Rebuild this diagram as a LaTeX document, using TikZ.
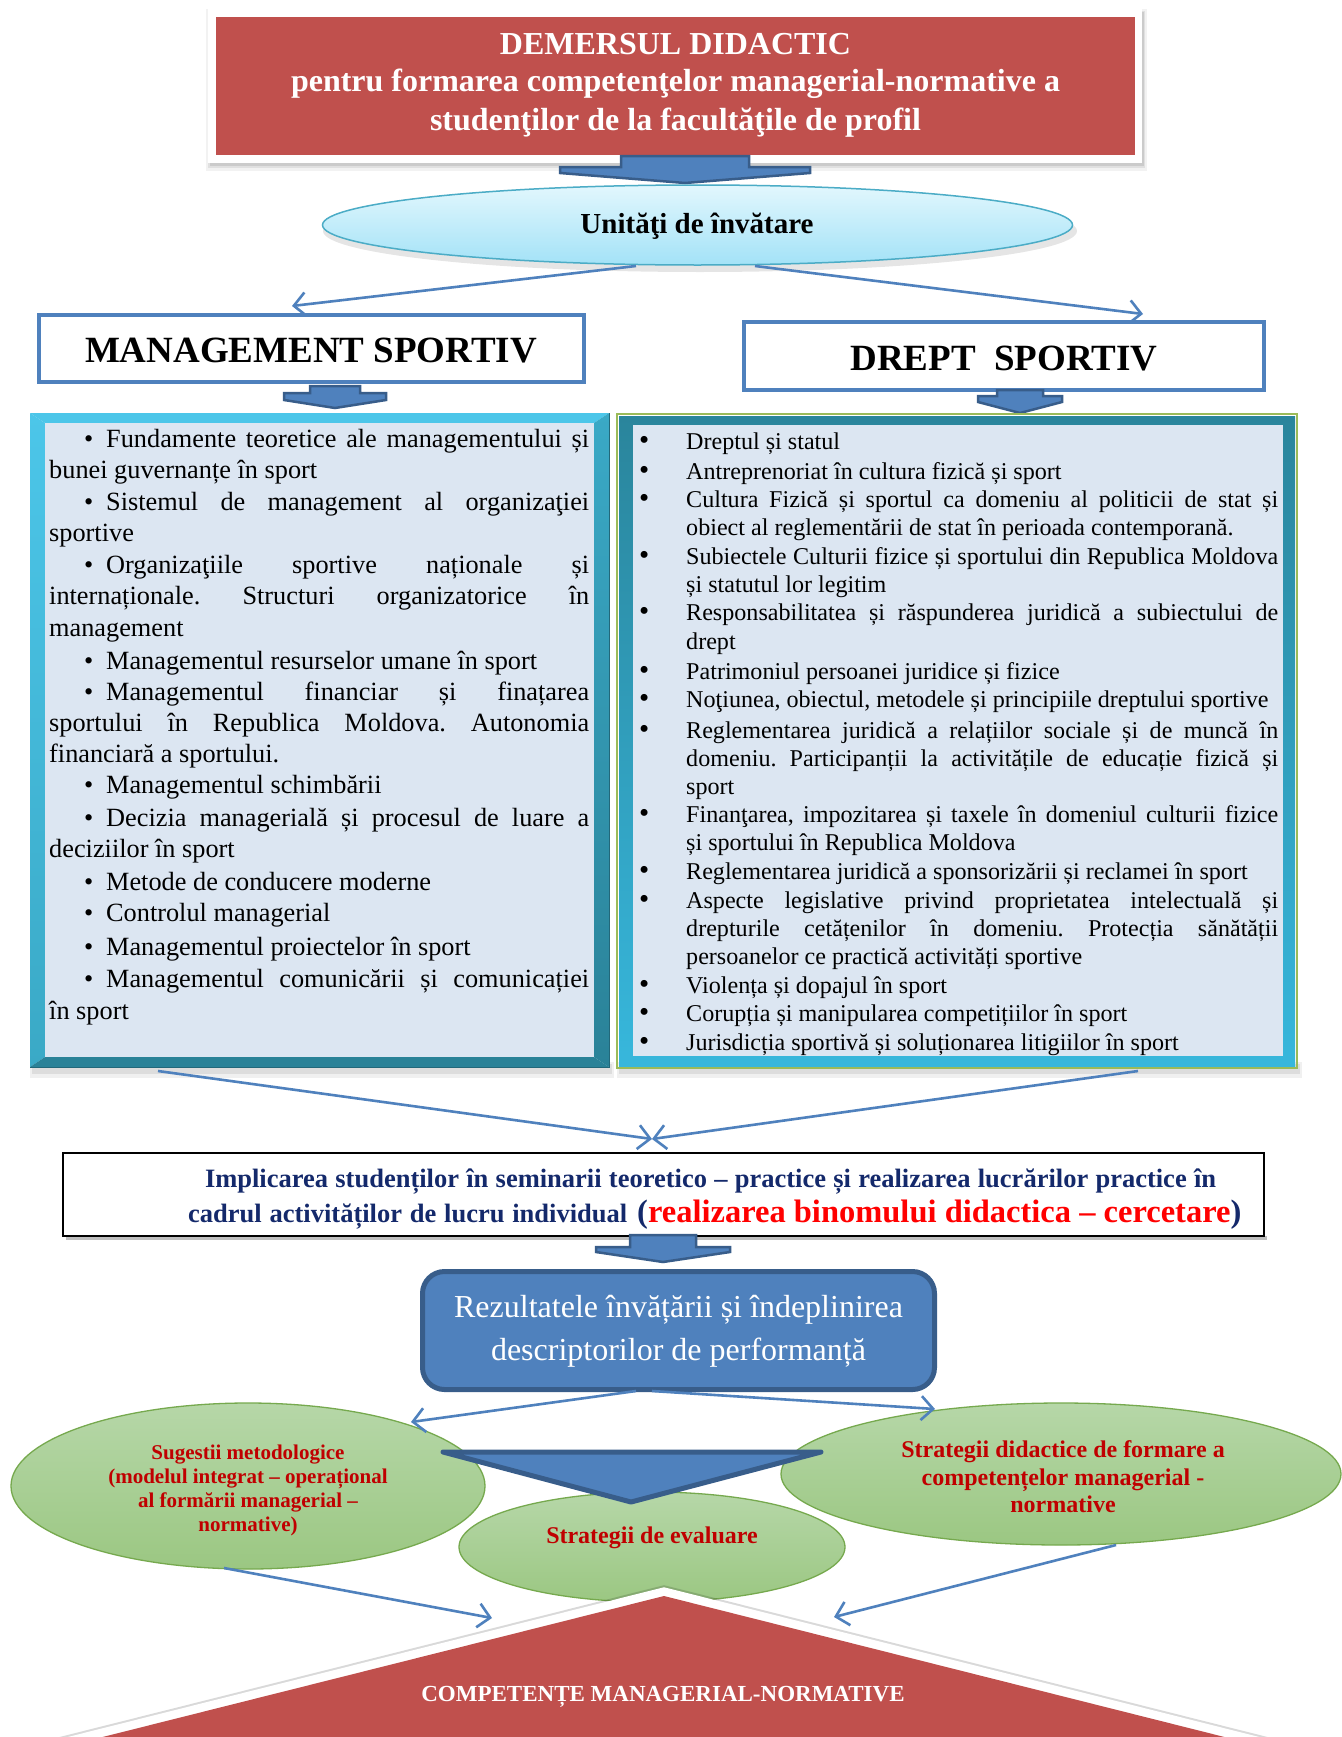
\documentclass[tikz,border=0pt]{standalone}
\usepackage{fontspec}
\setmainfont{Liberation Serif}
\usetikzlibrary{shapes.geometric,arrows.meta}
\frenchspacing
\definecolor{titred}{HTML}{C0504D}
\definecolor{accblue}{HTML}{4F81BD}
\definecolor{darkblue}{HTML}{385D8A}
\definecolor{paleblue}{HTML}{DCE6F2}
\definecolor{cyantop}{HTML}{E2F7FD}
\definecolor{cyanbot}{HTML}{A3E2F7}
\definecolor{cyanedge}{HTML}{4BACC6}
\definecolor{greentop}{HTML}{B6D7A8}
\definecolor{greenbot}{HTML}{9BC782}
\definecolor{greenedge}{HTML}{76A94E}
\definecolor{ovred}{HTML}{C00000}
\definecolor{navy}{HTML}{14296B}
\definecolor{frlight}{HTML}{4CC6E9}
\definecolor{frmid}{HTML}{3AA9C6}
\definecolor{frdark}{HTML}{2A8298}
\definecolor{frgreen}{HTML}{9BBB59}
\definecolor{tealtop}{HTML}{2A859C}
\definecolor{tealbot}{HTML}{37B7DC}
% left box lines: name, baseline y, text
\newcommand\mgB{\makebox[22pt][l]{\textbullet}}
\newcommand\mgF[3]{\node[mgl] (#1) at (84,#2) {\mgB\makebox[483pt][s]{#3}};}
\newcommand\mgS[3]{\node[mgl] (#1) at (84,#2) {\mgB #3};}
\newcommand\mgJ[3]{\node[mgl] (#1) at (49,#2) {\makebox[540pt][s]{#3}};}
\newcommand\mgE[3]{\node[mgl] (#1) at (49,#2) {#3};}
% right box lines
\newcommand\drB{\makebox[49pt][l]{\hspace*{2pt}{\fontsize{29}{29}\selectfont\textbullet}}}
\newcommand\drF[3]{\node[drl] (#1) at (637,#2) {\drB\makebox[592pt][s]{#3}};}
\newcommand\drS[3]{\node[drl] (#1) at (637,#2) {\drB #3};}
\newcommand\drJ[3]{\node[drl] (#1) at (686,#2) {\makebox[592pt][s]{#3}};}
\newcommand\drE[3]{\node[drl] (#1) at (686,#2) {#3};}
% block arrow: cx, top, shaft half, wing top, wing half, wing bottom, tip
\newcommand\blkdown[7]{\filldraw[blk] ({#1-#3},{#2}) -- ({#1+#3},{#2}) -- ({#1+#3},{#4}) -- ({#1+#5},{#4}) -- ({#1+#5},{#6}) -- ({#1},{#7}) -- ({#1-#5},{#6}) -- ({#1-#5},{#4}) -- ({#1-#3},{#4}) -- cycle;}
\newcommand\softshadow[4]{%
  \fill[black,opacity=0.05] ({#1-2},{#2}) rectangle ({#3+5},{#4+8});
  \fill[black,opacity=0.07] ({#1},{#2+2}) rectangle ({#3+3},{#4+5});
  \fill[black,opacity=0.09] ({#1+2},{#2+3}) rectangle ({#3+2},{#4+3});}
\begin{document}
\begin{tikzpicture}[x=1pt,y=-1pt,
  blk/.style={fill=accblue,draw=darkblue,line width=2.5pt,line join=miter},
  conn/.style={draw=accblue,line width=2.6pt,-{Straight Barb[length=12pt,width=24pt]}},
  greenov/.style={ellipse,top color=greentop,bottom color=greenbot,draw=greenedge,line width=1.3pt,inner sep=0},
  ovtext/.style={anchor=base,text=ovred,font=\fontsize{21}{24}\selectfont\bfseries},
  ovtextb/.style={anchor=base,text=ovred,font=\fontsize{24}{28}\selectfont\bfseries},
  titletext/.style={anchor=base,text=white,font=\fontsize{32}{38}\selectfont\bfseries},
  headtext/.style={anchor=base,font=\fontsize{37}{42}\selectfont\bfseries},
  reztext/.style={anchor=base,text=white,font=\fontsize{32}{38}\selectfont},
  impltext/.style={text=navy,font=\fontsize{26.5}{31}\selectfont\bfseries},
  mgl/.style={anchor=base west,inner sep=0,font=\fontsize{26.3}{31.8}\selectfont},
  drl/.style={anchor=base west,inner sep=0,font=\fontsize{24.1}{28.6}\selectfont}]
\useasboundingbox (0,0) rectangle (1341,1737);
\fill[white] (0,0) rectangle (1341,1737);

% ---------- title
\softshadow{208}{9}{1142}{163}
\node[fill=white,inner sep=0,minimum width=934pt,minimum height=154pt] (titleframe) at (675,86) {};
\node[fill=titred,inner sep=0,minimum width=919pt,minimum height=138pt] (title) at (675.5,86) {};
\node[titletext] (t1) at (675.5,55) {DEMERSUL DIDACTIC};
\node[titletext] (t2) at (675.5,92) {pentru formarea competenţelor managerial-normative a};
\node[titletext] (t3) at (675.5,130) {studenţilor de la facultăţile de profil};

\blkdown{685}{156}{64}{167}{125}{173}{183}

% ---------- unitati ellipse
\fill[black,opacity=0.10] (700,231) ellipse [x radius=377pt,y radius=41pt];
\node[ellipse,inner sep=0,minimum width=750pt,minimum height=80pt,top color=cyantop,bottom color=cyanbot,draw=cyanedge,line width=1.5pt] (unit) at (697.5,225) {};
\node[anchor=base,font=\fontsize{29}{34}\selectfont\bfseries] (unitt) at (697,233) {Unităţi de învătare};

\coordinate (uL) at (636,266);
\coordinate (uR) at (755,266);
\coordinate (mgTip) at (292,306);
\coordinate (drTip) at (1143,314);
\draw[conn] (uL) -- (mgTip);
\draw[conn] (uR) -- (drTip);

% ---------- headings
\node[draw=accblue,line width=4.5pt,fill=white,inner sep=0,minimum width=545pt,minimum height=67pt] (mgbox) at (311.5,348.5) {};
\node[headtext] (mgt) at (311,362) {MANAGEMENT SPORTIV};
\node[draw=accblue,line width=4.5pt,fill=white,inner sep=0,minimum width=520pt,minimum height=68pt] (drbox) at (1004,356) {};
\node[headtext] (drt) at (1004,370) {DREPT\ \ SPORTIV};

\blkdown{335}{386}{25}{393}{51}{400}{408}
\blkdown{1020}{390}{23}{396}{42}{402}{413}

% ---------- left content box
\fill[black,opacity=0.06] (30,1062) rectangle (614,1078);
\fill[black,opacity=0.08] (32,1064) rectangle (612,1074);
\fill[frlight] (30,413) -- (609,413) -- (594,423) -- (45,423) -- cycle;
\shade[top color=frlight,bottom color=frmid] (30,413) -- (45,423) -- (45,1057) -- (30,1067) -- cycle;
\shade[top color=frmid,bottom color=frdark] (609,413) -- (609,1067) -- (594,1057) -- (594,423) -- cycle;
\fill[frdark] (30,1067) -- (609,1067) -- (594,1057) -- (45,1057) -- cycle;
\draw[frdark!80!black,line width=1pt] (30,1067) -- (609,1067) -- (609,413);
\node[fill=paleblue,inner sep=0,minimum width=549pt,minimum height=634pt] (mgcontent) at (319.5,740) {};
\mgF{L1}{447}{Fundamente teoretice ale managementului și}
\mgE{L2}{478}{bunei guvernanțe în sport}
\mgF{L3}{510}{Sistemul de management al organizaţiei}
\mgE{L4}{541}{sportive}
\mgF{L5}{573}{Organizaţiile sportive naționale și}
\mgJ{L6}{604}{internaționale. Structuri organizatorice în}
\mgE{L7}{636}{management}
\mgS{L8}{669}{Managementul resurselor umane în sport}
\mgF{L9}{700}{Managementul financiar și finațarea}
\mgJ{L10}{731}{sportului în Republica Moldova. Autonomia}
\mgE{L11}{762}{financiară a sportului.}
\mgS{L12}{793}{Managementul schimbării}
\mgF{L13}{826}{Decizia managerială și procesul de luare a}
\mgE{L14}{857}{deciziilor în sport}
\mgS{L15}{890}{Metode de conducere moderne}
\mgS{L16}{921}{Controlul managerial}
\mgS{L17}{955}{Managementul proiectelor în sport}
\mgF{L18}{987}{Managementul comunicării și comunicației}
\mgE{L19}{1019}{în sport}

% ---------- right content box
\fill[black,opacity=0.06] (617,1062) rectangle (1302,1078);
\fill[black,opacity=0.08] (619,1064) rectangle (1300,1074);
\draw[frgreen,line width=2.5pt] (617,414) rectangle (1297,1068);
\shade[top color=tealtop,bottom color=tealbot] (619,416) rectangle (1295,1066);
\node[fill=paleblue,inner sep=0,minimum width=650pt,minimum height=631pt] (drcontent) at (958,740.5) {};
\drS{R1}{449}{Dreptul și statul}
\drS{R2}{479}{Antreprenoriat în cultura fizică și sport}
\drF{R3}{507}{Cultura Fizică și sportul ca domeniu al politicii de stat și}
\drE{R4}{535}{obiect al reglementării de stat în perioada contemporană.}
\drF{R5}{564}{Subiectele Culturii fizice și sportului din Republica Moldova}
\drE{R6}{592}{și statutul lor legitim}
\drF{R7}{620}{Responsabilitatea și răspunderea juridică a subiectului de}
\drE{R8}{649}{drept}
\drS{R9}{679}{Patrimoniul persoanei juridice și fizice}
\drS{R10}{707}{Noţiunea, obiectul, metodele și principiile dreptului sportive}
\drF{R11}{738}{Reglementarea juridică a relațiilor sociale și de muncă în}
\drJ{R12}{766}{domeniu. Participanții la activitățile de educație fizică și}
\drE{R13}{794}{sport}
\drF{R14}{822}{Finanţarea, impozitarea și taxele în domeniul culturii fizice}
\drE{R15}{850}{și sportului în Republica Moldova}
\drS{R16}{879}{Reglementarea juridică a sponsorizării și reclamei în sport}
\drF{R17}{908}{Aspecte legislative privind proprietatea intelectuală și}
\drJ{R18}{936}{drepturile cetățenilor în domeniu. Protecția sănătății}
\drE{R19}{964}{persoanelor ce practică activități sportive}
\drS{R20}{993}{Violența și dopajul în sport}
\drS{R21}{1021}{Corupția și manipularea competițiilor în sport}
\drS{R22}{1050}{Jurisdicția sportivă și soluționarea litigiilor în sport}

% ---------- connectors to Implicarea
\coordinate (mgOut) at (158,1071);
\coordinate (drOut) at (1138,1071);
\coordinate (implIn) at (652,1139);
\draw[conn] (mgOut) -- (implIn);
\draw[conn] (drOut) -- (implIn);

% ---------- Implicarea box
\fill[black,opacity=0.25] (66,1236) rectangle (1267,1240);
\node[draw=black,line width=1.5pt,fill=white,inner sep=0,minimum width=1201pt,minimum height=83pt] (impl) at (663.5,1194.5) {};
\node[impltext,anchor=base] (impl1) at (710.5,1187) {\makebox[1011pt][s]{Implicarea studenților în seminarii teoretico – practice și realizarea lucrărilor practice în}};
\node[impltext,anchor=base west,inner sep=0] (impl2) at (188,1222) {\makebox[439pt][s]{cadrul activităților de lucru individual}\hspace{10pt}{\fontsize{32.5}{38}\selectfont(\textcolor{red}{realizarea binomului didactica – cercetare})}};

\blkdown{663}{1235}{33}{1247}{67}{1252}{1262}

% ---------- Rezultatele
\node[rounded corners=22pt,fill=accblue,draw=darkblue,line width=5pt,inner sep=0,minimum width=512pt,minimum height=118pt] (rez) at (678.5,1330.5) {};
\node[reztext] (rez1) at (678.5,1317) {Rezultatele învățării și îndeplinirea};
\node[reztext] (rez2) at (678.5,1360) {descriptorilor de performanță};

% ---------- green ellipses
\node[greenov,minimum width=474pt,minimum height=166pt] (sug) at (248,1486) {};
\node[greenov,minimum width=560pt,minimum height=142pt] (strd) at (1061,1474) {};
\node[greenov,minimum width=386pt,minimum height=110pt] (streval) at (652,1547) {};
\node[ovtext] (sug1) at (248,1459) {Sugestii metodologice};
\node[ovtext] (sug2) at (248,1483) {(modelul integrat – operațional};
\node[ovtext] (sug3) at (248,1507) {al formării managerial –};
\node[ovtext] (sug4) at (248,1531) {normative)};
\node[ovtextb] (strd1) at (1063,1457) {Strategii didactice de formare a};
\node[ovtextb] (strd2) at (1063,1485) {competențelor managerial -};
\node[ovtextb] (strd3) at (1063,1512) {normative};
\node[ovtextb] (sev) at (652,1543) {Strategii de evaluare};

% ---------- big down triangle
\filldraw[fill=accblue,draw=darkblue,line width=5pt,line join=round,line cap=round] (443,1452) -- (821,1452) -- (631,1502) -- cycle;

% ---------- connectors from Rezultatele
\coordinate (rezL) at (636,1391);
\coordinate (rezR) at (652,1391);
\coordinate (sugIn) at (411,1422);
\coordinate (strdIn) at (935,1409);
\draw[conn] (rezL) -- (sugIn);
\draw[conn] (rezR) -- (strdIn);

% ---------- bottom triangle
\coordinate (compApex) at (664,1596);
\draw[black,opacity=0.15,line width=21pt,line join=miter] (compApex) -- (1304,1757) -- (23,1757) -- cycle;
\draw[white,line width=17pt,line join=miter] (compApex) -- (1304,1757) -- (23,1757) -- cycle;
\fill[titred] (compApex) -- (1304,1757) -- (23,1757) -- cycle;
\node[anchor=base,text=white,font=\fontsize{23}{27}\selectfont\bfseries] (comp) at (663,1701) {COMPETENȚE MANAGERIAL-NORMATIVE};

\coordinate (sugOut) at (224,1568);
\coordinate (strdOut) at (1116,1545);
\coordinate (compL) at (492,1618);
\coordinate (compR) at (834,1617);
\draw[conn] (sugOut) -- (compL);
\draw[conn] (strdOut) -- (compR);
\end{tikzpicture}
\end{document}
